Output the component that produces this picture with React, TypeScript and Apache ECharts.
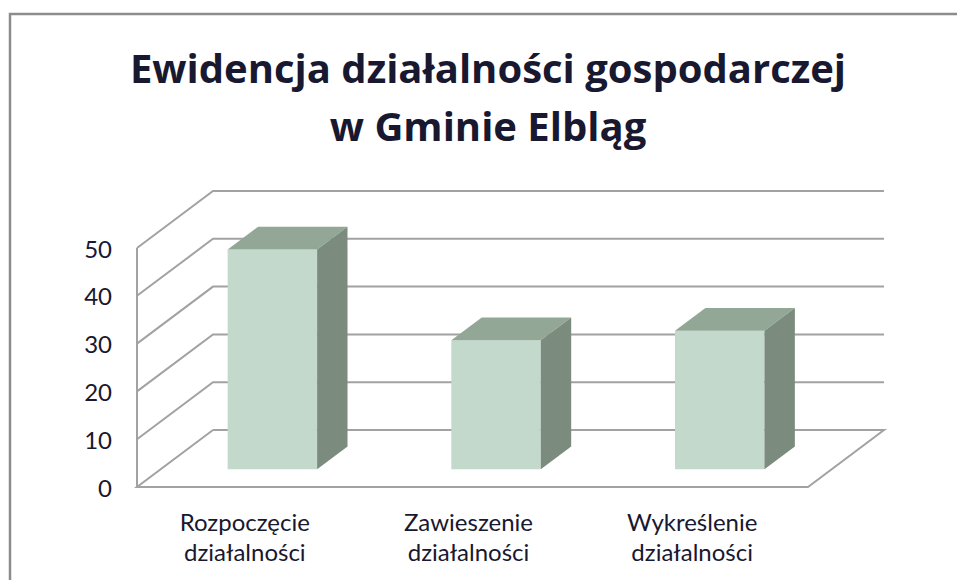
import React, { useEffect, useRef } from "react";
import * as echarts from "echarts";

const titleLines = ["Ewidencja działalności gospodarczej", "w Gminie Elbląg"];
const categories = [
  "Rozpoczęcie\ndziałalności",
  "Zawieszenie\ndziałalności",
  "Wykreślenie\ndziałalności",
];
const values = [46, 27, 29];
const yTicks = [0, 10, 20, 30, 40, 50];

const TITLE_FONT = '"Open Sans", "Noto Sans", sans-serif';
const LABEL_FONT = 'Lato, "Open Sans", sans-serif';
const TEXT = "#181830";
const GRID_LINE = "#a2a2a2";
const FRONT = "#c2d9cb";
const TOP = "#93a797";
const SIDE = "#7b8b7e";

const DX = 76;
const DY = -57;
const BAR_FRONT = 0.31;
const BAR_BACK = 0.71;
const BAR_WIDTH_RATIO = 0.4;

export default function App() {
  const ref = useRef<HTMLDivElement>(null);

  useEffect(() => {
    const chart = echarts.init(ref.current!, null, { renderer: "svg" });

    const frameData = yTicks.map((v) => [0, v]);
    const barData = values.map((v, i) => [i, v]);

    const option: any = {
      animation: false,
      backgroundColor: "#ffffff",
      grid: { left: 137, right: 149, top: 248, bottom: 93 },
      xAxis: {
        type: "category",
        data: categories,
        axisLine: { show: false },
        axisTick: { show: false },
        splitLine: { show: false },
        axisLabel: {
          interval: 0,
          margin: 19,
          fontSize: 24,
          lineHeight: 30,
          padding: [0, 8, 0, 0],
          color: TEXT,
          fontFamily: LABEL_FONT,
        },
      },
      yAxis: {
        type: "value",
        min: 0,
        max: 50,
        interval: 10,
        axisLine: { show: false },
        axisTick: { show: false },
        splitLine: { show: false },
        axisLabel: {
          margin: 25,
          fontSize: 24,
          color: TEXT,
          fontFamily: LABEL_FONT,
        },
      },
      graphic: [
        {
          type: "rect",
          shape: { x: 10, y: 14, width: 1200, height: 1200 },
          style: { fill: "none", stroke: "#8c8c8c", lineWidth: 2.5 },
          silent: true,
        },
        ...titleLines.map((t, i) => ({
          type: "text",
          x: 488,
          y: 67 + i * 58,
          style: {
            text: t,
            fill: TEXT,
            fontSize: 40,
            fontWeight: "bold",
            fontFamily: TITLE_FONT,
            align: "center",
            verticalAlign: "middle",
          },
        })),
      ],
      series: [
        {
          type: "custom",
          name: "frame",
          data: frameData,
          clip: false,
          z: 1,
          renderItem: (params: any, api: any) => {
            const cs = params.coordSys;
            const v = api.value(1);
            const y = api.coord([0, v])[1];
            const gx = cs.x;
            const gr = cs.x + cs.width;
            const children: any[] = [];
            if (v === 0) {
              children.push({
                type: "polyline",
                shape: {
                  points: [
                    [gx + DX, y + DY],
                    [gx, y],
                    [gr, y],
                    [gr + DX, y + DY],
                    [gx + DX, y + DY],
                  ],
                },
                style: { stroke: GRID_LINE, lineWidth: 2, fill: "none" },
              });
              children.push({
                type: "line",
                shape: { x1: gx, y1: y, x2: gx, y2: cs.y },
                style: { stroke: GRID_LINE, lineWidth: 2 },
              });
            } else {
              children.push({
                type: "polyline",
                shape: {
                  points: [
                    [gx, y],
                    [gx + DX, y + DY],
                    [gr + DX, y + DY],
                  ],
                },
                style: { stroke: GRID_LINE, lineWidth: 2, fill: "none" },
              });
            }
            return { type: "group", children };
          },
        },
        {
          type: "custom",
          name: "Ewidencja",
          data: barData,
          clip: false,
          z: 2,
          renderItem: (params: any, api: any) => {
            const cat = api.value(0);
            const v = api.value(1);
            const base = api.coord([cat, 0]);
            const topP = api.coord([cat, v]);
            const band = api.size([1, 0])[0];
            const w = band * BAR_WIDTH_RATIO;
            const x0 = base[0] - w / 2 + DX * BAR_FRONT;
            const yb = base[1] + DY * BAR_FRONT;
            const yt = topP[1] + DY * BAR_FRONT;
            const dx = DX * (BAR_BACK - BAR_FRONT);
            const dy = DY * (BAR_BACK - BAR_FRONT);
            return {
              type: "group",
              children: [
                {
                  type: "rect",
                  shape: { x: x0, y: yt, width: w, height: yb - yt },
                  style: { fill: FRONT },
                },
                {
                  type: "polygon",
                  shape: {
                    points: [
                      [x0, yt],
                      [x0 + w, yt],
                      [x0 + w + dx, yt + dy],
                      [x0 + dx, yt + dy],
                    ],
                  },
                  style: { fill: TOP },
                },
                {
                  type: "polygon",
                  shape: {
                    points: [
                      [x0 + w, yt],
                      [x0 + w + dx, yt + dy],
                      [x0 + w + dx, yb + dy],
                      [x0 + w, yb],
                    ],
                  },
                  style: { fill: SIDE },
                },
              ],
            };
          },
        },
      ],
    };

    chart.setOption(option);
    return () => chart.dispose();
  }, []);

  return (
    <div
      ref={ref}
      style={{ position: "absolute", left: 0, top: 0, width: 957, height: 580 }}
    />
  );
}
